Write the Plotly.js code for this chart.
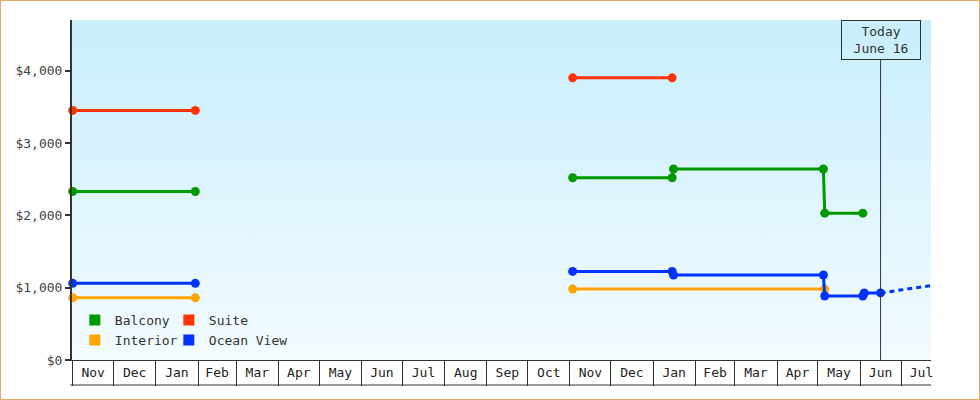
<!DOCTYPE html>
<html>
<head>
<meta charset="utf-8">
<script src="https://cdn.plot.ly/plotly-3.0.1.min.js"></script>
<style>
  body { margin: 0; background: #fff; }
  #frame { width: 978px; height: 398px; border: 1px solid #e8a862; }
</style>
</head>
<body>
<div id="frame"><div id="priceChart"></div></div>
<script>
"use strict";

// price history per cabin type, null breaks the line between the two sailing seasons
var balconyDates = ['2022-11-01', '2023-01-30', null, '2023-11-03', '2024-01-15', '2024-01-16', '2024-05-05', '2024-05-06', '2024-06-03'];
var balconyPrices = [2330, 2330, null, 2520, 2520, 2640, 2640, 2030, 2030];

var suiteDates = ['2022-11-01', '2023-01-30', null, '2023-11-03', '2024-01-15'];
var suitePrices = [3450, 3450, null, 3900, 3900];

var interiorDates = ['2022-11-01', '2023-01-30', null, '2023-11-03', '2024-05-06'];
var interiorPrices = [860, 860, null, 980, 980];

var oceanDates = ['2022-11-01', '2023-01-30', null, '2023-11-03', '2024-01-15', '2024-01-16', '2024-05-05', '2024-05-06', '2024-06-03', '2024-06-04', '2024-06-16'];
var oceanPrices = [1060, 1060, null, 1225, 1225, 1175, 1175, 885, 885, 927, 927];

// projected ocean view price after today
var oceanForecastDates = ['2024-06-16', '2024-07-23'];
var oceanForecastPrices = [927, 1028];

var todayDate = '2024-06-16';
var todayLabel = 'Today<br>June 16';

var xRange = ['2022-10-31 12:00', '2024-07-23'];
var yRange = [0, 4700];

var FONT = 'DejaVu Sans Mono';
var colors = { balcony: '#009900', suite: '#ff3300', interior: '#ffa500', ocean: '#0033ff' };

function priceTrace(name, dates, prices, color) {
    return {
        x: dates,
        y: prices,
        name: name,
        type: 'scatter',
        mode: 'lines+markers',
        line: { color: color, width: 3 },
        marker: { color: color, size: 9 },
        connectgaps: false,
        cliponaxis: false,
        showlegend: false
    };
}

// square swatches for the legend, the lines themselves stay out of it
function legendTrace(name, color, legendId, entryWidth) {
    return {
        x: [null],
        y: [null],
        name: name,
        type: 'scatter',
        mode: 'markers',
        marker: { color: color, size: 11, symbol: 'square' },
        legend: legendId,
        legendwidth: entryWidth
    };
}

var data = [
    priceTrace('Interior', interiorDates, interiorPrices, colors.interior),
    priceTrace('Balcony', balconyDates, balconyPrices, colors.balcony),
    priceTrace('Suite', suiteDates, suitePrices, colors.suite),
    priceTrace('Ocean View', oceanDates, oceanPrices, colors.ocean),
    {
        x: oceanForecastDates,
        y: oceanForecastPrices,
        type: 'scatter',
        mode: 'lines',
        line: { color: colors.ocean, width: 3, dash: '5px,4px' },
        showlegend: false
    },
    legendTrace('Balcony', colors.balcony, 'legend', 49),
    legendTrace('Suite', colors.suite, 'legend', 110),
    legendTrace('Interior', colors.interior, 'legend2', 49),
    legendTrace('Ocean View', colors.ocean, 'legend2', 110)
];

var gradSvg = '<svg xmlns="http://www.w3.org/2000/svg" width="10" height="100" preserveAspectRatio="none">' +
    '<defs><linearGradient id="g" x1="0" y1="0" x2="0" y2="1">' +
    '<stop offset="0" stop-color="#c8eefc"/><stop offset="1" stop-color="#f3fbff"/>' +
    '</linearGradient></defs><rect width="10" height="100" fill="url(#g)"/></svg>';

var plotH = 340;
var cellDepth = 25;

var legendBase = {
    orientation: 'h',
    x: 0.0033,
    xanchor: 'left',
    yanchor: 'middle',
    bgcolor: 'rgba(0,0,0,0)',
    font: { family: FONT, size: 13, color: '#333' }
};

var layout = {
    width: 978,
    height: 398,
    margin: { l: 71, r: 48, t: 19, b: 39 },
    paper_bgcolor: '#ffffff',
    plot_bgcolor: 'rgba(0,0,0,0)',
    font: { family: FONT, size: 13, color: '#333' },
    showlegend: true,
    legend: Object.assign({}, legendBase, { y: 40 / plotH }),
    legend2: Object.assign({}, legendBase, { y: 20 / plotH }),
    xaxis: {
        type: 'date',
        range: xRange,
        dtick: 'M1',
        tick0: '2022-11-01',
        tickformat: '%b',
        ticklabelmode: 'period',
        ticks: 'outside',
        ticklen: cellDepth,
        tickwidth: 1,
        tickcolor: '#333',
        ticklabelstandoff: -25,
        showline: true,
        linecolor: '#333',
        linewidth: 1,
        showgrid: false,
        zeroline: false,
        tickfont: { family: FONT, size: 13, color: '#222' }
    },
    yaxis: {
        range: yRange,
        dtick: 1000,
        tickprefix: '$',
        tickformat: ',d',
        ticks: 'outside',
        ticklen: 5,
        tickwidth: 2,
        tickcolor: '#333',
        showline: true,
        linecolor: '#333',
        linewidth: 2,
        showgrid: false,
        zeroline: false,
        tickfont: { family: FONT, size: 13, color: '#444' }
    },
    images: [{
        source: 'data:image/svg+xml;charset=utf-8,' + encodeURIComponent(gradSvg),
        xref: 'paper', yref: 'paper',
        x: 0, y: 1, sizex: 1, sizey: 1,
        xanchor: 'left', yanchor: 'top',
        sizing: 'stretch',
        layer: 'below'
    }],
    shapes: [
        // today marker line, stops under the label box
        {
            type: 'line', xref: 'x', yref: 'paper',
            x0: todayDate, x1: todayDate, y0: 0, y1: 300 / plotH,
            line: { color: '#333', width: 1 }
        },
        // bottom edge of the month cells
        {
            type: 'line', xref: 'paper', yref: 'paper',
            x0: -0.002, x1: 1, y0: -cellDepth / plotH, y1: -cellDepth / plotH,
            line: { color: '#333', width: 1 }
        }
    ],
    annotations: [{
        x: todayDate, xref: 'x',
        y: 1, yref: 'paper', yanchor: 'top',
        text: todayLabel,
        showarrow: false,
        align: 'center',
        width: 72,
        borderpad: 3,
        borderwidth: 1,
        bordercolor: '#333',
        bgcolor: 'rgba(0,0,0,0)',
        font: { family: FONT, size: 13, color: '#333' }
    }]
};

Plotly.newPlot('priceChart', data, layout, { displayModeBar: false, staticPlot: true });
</script>
</body>
</html>
